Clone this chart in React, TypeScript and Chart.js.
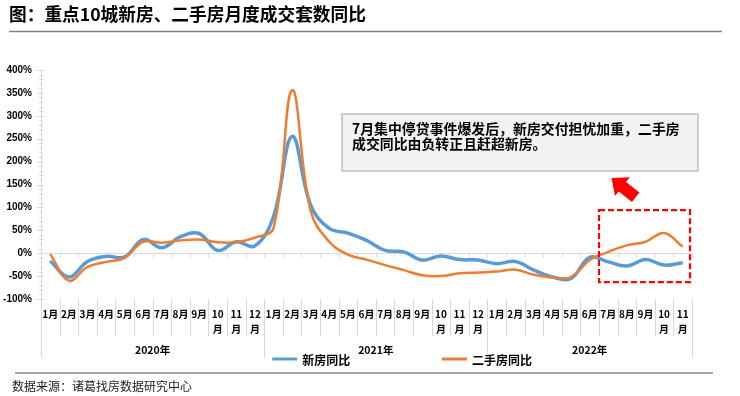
import { useEffect, useRef } from 'react';
import { Chart, registerables } from 'chart.js';

Chart.register(...registerables);

const monthLabels = [
  '1月','2月','3月','4月','5月','6月','7月','8月','9月','10月','11月','12月',
  '1月','2月','3月','4月','5月','6月','7月','8月','9月','10月','11月','12月',
  '1月','2月','3月','4月','5月','6月','7月','8月','9月','10月','11月',
];
const yearLabels = ['2020年', '2021年', '2022年'];
const yearLengths = [12, 12, 11];

const newHomeYoY = [
  -17, -52, -18, -7, -8, 30, 12, 36, 43, 6, 25, 16,
  80, 255, 105, 54, 44, 28, 6, 3, -15, -6, -14, -15,
  -23, -18, -37, -52, -55, -9, -19, -28, -14, -26, -21,
];
const resaleYoY = [
  -2, -60, -30, -19, -10, 25, 23, 28, 30, 24, 24, 34,
  55, 356, 92, 25, -3, -14, -26, -37, -48, -50, -44, -42,
  -40, -36, -47, -53, -52, -15, 3, 17, 25, 44, 14,
];

const seriesNames = ['新房同比', '二手房同比'];
const seriesColors = ['#5B9BD5', '#ED7D31'];
const titleText = '图：重点10城新房、二手房月度成交套数同比';
const sourceText = '数据来源：诸葛找房数据研究中心';
const noteLines = ['7月集中停贷事件爆发后，新房交付担忧加重，二手房', '成交同比由负转正且赶超新房。'];

const CJK = "'Noto Sans CJK SC', 'Noto Sans', sans-serif";
const LAT = "'Liberation Sans', Arial, sans-serif";

const decor = {
  id: 'decor',
  beforeDatasetsDraw(chart: any) {
    const { ctx, chartArea: a, scales } = chart;
    const x = scales.x, y = scales.y;
    const half = (x.getPixelForValue(1) - x.getPixelForValue(0)) / 2;
    ctx.save();
    ctx.strokeStyle = '#d9d9d9';
    ctx.lineWidth = 1;
    ctx.beginPath();
    ctx.moveTo(a.left + 0.5, a.top);
    ctx.lineTo(a.left + 0.5, a.bottom);
    ctx.stroke();
    for (let v = -100; v <= 400; v += 10) {
      const py = Math.round(y.getPixelForValue(v)) + 0.5;
      const major = v % 50 === 0;
      ctx.beginPath();
      ctx.moveTo(a.left - (major ? 4 : 2), py);
      ctx.lineTo(a.left + (major ? 3 : 2), py);
      ctx.stroke();
    }
    const y0 = Math.round(y.getPixelForValue(0)) + 0.5;
    ctx.beginPath();
    ctx.moveTo(a.left, y0);
    ctx.lineTo(a.right, y0);
    ctx.stroke();
    for (let i = 0; i <= monthLabels.length; i++) {
      const px = Math.round(x.getPixelForValue(i) - half) + 0.5;
      ctx.beginPath();
      ctx.moveTo(px, y0);
      ctx.lineTo(px, y0 + 4);
      ctx.stroke();
    }
    ctx.restore();
  },
  afterDraw(chart: any) {
    const { ctx, chartArea: a, scales } = chart;
    const x = scales.x, y = scales.y;
    const half = (x.getPixelForValue(1) - x.getPixelForValue(0)) / 2;
    ctx.save();

    ctx.strokeStyle = '#d9d9d9';
    ctx.lineWidth = 1;
    const yearStarts = new Set<number>();
    let acc = 0;
    yearStarts.add(0);
    yearLengths.forEach((n) => { acc += n; yearStarts.add(acc); });
    for (let i = 0; i <= monthLabels.length; i++) {
      const px = Math.round(x.getPixelForValue(i) - half) + 0.5;
      ctx.beginPath();
      ctx.moveTo(px, a.bottom);
      ctx.lineTo(px, a.bottom + (yearStarts.has(i) ? 59 : 37));
      ctx.stroke();
    }

    ctx.fillStyle = '#000';
    ctx.textAlign = 'center';
    ctx.textBaseline = 'middle';
    ctx.font = `bold 10px ${CJK}`;
    monthLabels.forEach((m, i) => {
      const px = x.getPixelForValue(i);
      if (m.length > 2) {
        ctx.fillText(m.slice(0, m.length - 1), px, a.bottom + 15);
        ctx.fillText(m.slice(-1), px, a.bottom + 30);
      } else {
        ctx.fillText(m, px, a.bottom + 15);
      }
    });

    ctx.font = `bold 10.5px ${CJK}`;
    let start = 0;
    yearLabels.forEach((yl, k) => {
      const end = start + yearLengths[k];
      const cx = (x.getPixelForValue(start) - half + x.getPixelForValue(end - 1) + half) / 2;
      ctx.fillText(yl, cx, a.bottom + 51);
      start = end;
    });

    const legendX = [x.getPixelForValue(12) - half + 8, x.getPixelForValue(21) + 1];
    const ly = a.bottom + 60;
    ctx.font = `bold 12px ${CJK}`;
    ctx.textAlign = 'left';
    seriesNames.forEach((nm, k) => {
      ctx.strokeStyle = seriesColors[k];
      ctx.lineWidth = 3;
      ctx.beginPath();
      ctx.moveTo(legendX[k], ly);
      ctx.lineTo(legendX[k] + 25, ly);
      ctx.stroke();
      ctx.fillStyle = '#000';
      ctx.fillText(nm, legendX[k] + 30, ly + 1);
    });

    ctx.fillStyle = '#000';
    ctx.font = `bold 17.7px ${CJK}`;
    ctx.textAlign = 'left';
    ctx.fillText(titleText, 9, 14);
    ctx.strokeStyle = '#808080';
    ctx.lineWidth = 1.5;
    ctx.beginPath();
    ctx.moveTo(9, 31.5);
    ctx.lineTo(722, 31.5);
    ctx.stroke();
    ctx.strokeStyle = '#a6a6a6';
    ctx.lineWidth = 2;
    ctx.beginPath();
    ctx.moveTo(15, 373);
    ctx.lineTo(713, 373);
    ctx.stroke();
    ctx.fillStyle = '#222';
    ctx.font = `12px ${CJK}`;
    ctx.fillText(sourceText, 12, 386);

    const bx = 342, by = 114, bw = 356, bh = 57;
    ctx.fillStyle = '#f2f2f2';
    ctx.fillRect(bx, by, bw, bh);
    ctx.strokeStyle = '#bfbfbf';
    ctx.lineWidth = 1.5;
    ctx.strokeRect(bx, by, bw, bh);
    ctx.fillStyle = '#000';
    ctx.font = `bold 13.9px ${CJK}`;
    ctx.fillText(noteLines[0], bx + 10, by + 15);
    ctx.fillText(noteLines[1], bx + 10, by + 30);

    const rl = x.getPixelForValue(29) + half;
    const rr = x.getPixelForValue(34) + half - 2;
    const rt = y.getPixelForValue(94);
    const rb = y.getPixelForValue(-63);
    ctx.strokeStyle = '#ff0000';
    ctx.lineWidth = 2.2;
    ctx.setLineDash([6, 3]);
    ctx.strokeRect(rl, rt, rr - rl, rb - rt);
    ctx.setLineDash([]);

    const pts = [
      [611.5, 178], [629.8, 177.3], [626.1, 182], [639.4, 192.5],
      [632, 201.9], [618.7, 191.4], [615, 196.1],
    ];
    ctx.fillStyle = '#ff0000';
    ctx.beginPath();
    pts.forEach(([px, py], i) => (i ? ctx.lineTo(px, py) : ctx.moveTo(px, py)));
    ctx.closePath();
    ctx.fill();

    ctx.restore();
  },
};

export default function App() {
  const ref = useRef<HTMLCanvasElement>(null);
  useEffect(() => {
    if (!ref.current) return;
    const chart = new Chart(ref.current, {
      type: 'line',
      data: {
        labels: monthLabels,
        datasets: [
          {
            label: seriesNames[0],
            data: newHomeYoY,
            borderColor: seriesColors[0],
            borderWidth: 3.5,
            pointRadius: 0,
            tension: 0.4,
            order: 2,
          },
          {
            label: seriesNames[1],
            data: resaleYoY,
            borderColor: seriesColors[1],
            borderWidth: 2.5,
            pointRadius: 0,
            tension: 0.4,
            order: 1,
          },
        ],
      },
      options: {
        responsive: false,
        animation: false,
        devicePixelRatio: 1,
        layout: { padding: { top: 70, right: 48, bottom: 97, left: 0 } },
        plugins: { legend: { display: false }, tooltip: { enabled: false } },
        scales: {
          x: { display: false, offset: true },
          y: {
            min: -100,
            max: 400,
            ticks: {
              stepSize: 50,
              callback: (v: any) => `${v}%`,
              font: { family: LAT, size: 10, weight: 'bold' },
              color: '#000',
              padding: 9,
            },
            grid: { display: false, drawTicks: false, tickLength: 0 },
            border: { display: false },
            afterFit: (s: any) => { s.width = 41; },
          },
        },
      },
      plugins: [decor],
    } as any);
    return () => chart.destroy();
  }, []);
  return (
    <div style={{ position: 'absolute', left: 0, top: 0, width: 740, height: 396, background: '#fff' }}>
      <canvas ref={ref} width={740} height={396} style={{ width: 740, height: 396, display: 'block' }} />
    </div>
  );
}
